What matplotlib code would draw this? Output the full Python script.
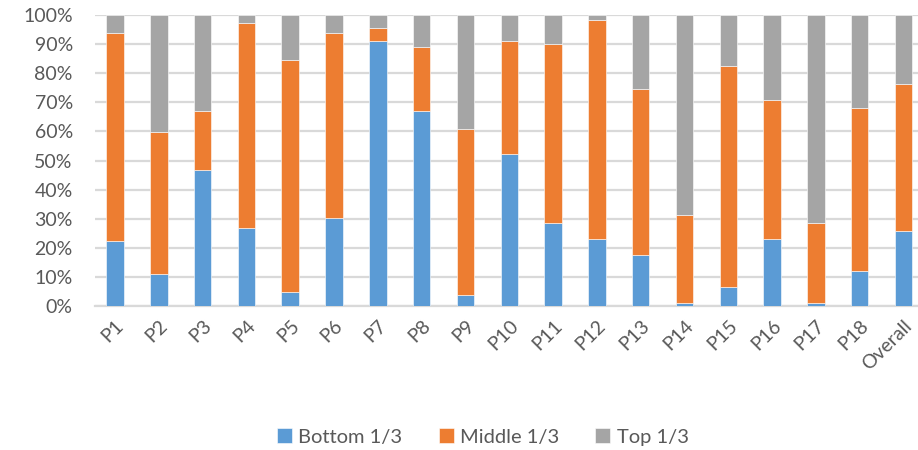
import matplotlib
matplotlib.use('Agg')
import matplotlib.pyplot as plt
import numpy as np
from matplotlib.ticker import PercentFormatter

plt.rcParams['font.family'] = ['Lato', 'DejaVu Sans']

# Dane (udział procentowy)
kategorie = ['P1', 'P2', 'P3', 'P4', 'P5', 'P6', 'P7', 'P8', 'P9', 'P10',
             'P11', 'P12', 'P13', 'P14', 'P15', 'P16', 'P17', 'P18', 'Overall']
dolna = [22.2, 11.1, 46.9, 26.8, 4.9, 30.4, 90.9, 67.1, 3.9, 52.4,
         28.6, 23.1, 17.6, 1.1, 6.6, 23.1, 1.1, 12.1, 25.8]
srodkowa = [71.5, 48.8, 20.2, 70.6, 79.7, 63.3, 4.7, 22.0, 56.8, 38.5,
            61.5, 75.3, 56.8, 30.2, 76.0, 47.8, 27.5, 56.0, 50.6]
gorna = [6.3, 40.1, 32.9, 2.6, 15.4, 6.3, 4.4, 10.9, 39.3, 9.1,
         9.9, 1.6, 25.6, 68.7, 17.4, 29.1, 71.4, 31.9, 23.6]
serie = ['Bottom 1/3', 'Middle 1/3', 'Top 1/3']
kolory = ['#5B9BD5', '#ED7D31', '#A5A5A5']

szary = '#595959'

fig = plt.figure(figsize=(9.18, 4.5), dpi=100)
ax = fig.add_axes([95 / 918, 1 - 306 / 450, 1 - 95 / 918, (306 - 15) / 450])

x = np.arange(len(kategorie))
spod = np.zeros(len(kategorie))
for wartosci, nazwa, kolor in zip([dolna, srodkowa, gorna], serie, kolory):
    ax.bar(x, wartosci, width=0.4, bottom=spod, color=kolor, label=nazwa,
           edgecolor='white', linewidth=0.4, zorder=3)
    spod += np.array(wartosci)

ax.set_ylim(0, 100)
ax.set_xlim(-0.457, 18.33)
ax.set_yticks(np.arange(0, 101, 10))
ax.yaxis.set_major_formatter(PercentFormatter(decimals=0))
ax.grid(axis='y', color='#D9D9D9', linewidth=1.6, zorder=0)
ax.set_axisbelow(True)
for s in ['top', 'right', 'left']:
    ax.spines[s].set_visible(False)
ax.spines['bottom'].set_color('#D9D9D9')
ax.spines['bottom'].set_linewidth(1.6)

ax.set_xticks(x)
ax.set_xticklabels(kategorie, rotation=45, ha='right', rotation_mode='anchor')
ax.tick_params(axis='y', length=0, pad=16, labelsize=14, labelcolor=szary)
ax.tick_params(axis='x', length=0, pad=8, labelsize=14, labelcolor=szary)

fig.legend(loc='center', bbox_to_anchor=(0.526, 1 - 437 / 450), ncol=3,
           frameon=False, fontsize=14.5, labelcolor=szary,
           handlelength=0.75, handleheight=0.75, handletextpad=0.3,
           columnspacing=1.8)

plt.savefig('out.png', dpi=100)
